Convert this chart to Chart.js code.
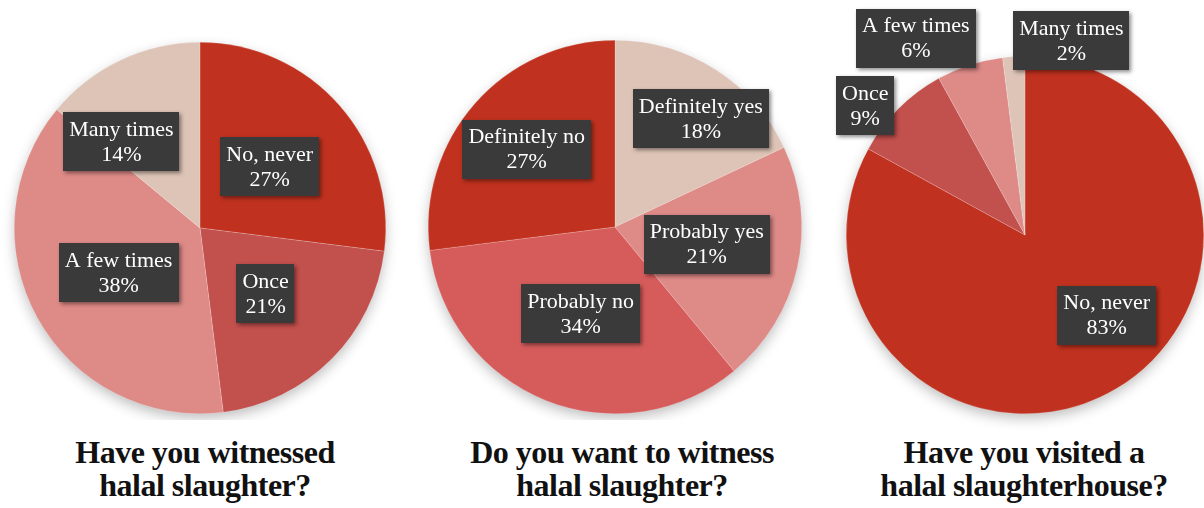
<!DOCTYPE html>
<html>
<head>
<meta charset="utf-8">
<script src="https://cdn.jsdelivr.net/npm/chart.js@4"></script>
<style>
  body { margin: 0; background: #fff; width: 1204px; height: 508px; position: relative; overflow: hidden; }
  canvas { position: absolute; }
  .title {
    position: absolute; top: 436px;
    font-family: "Liberation Serif", serif; font-weight: bold;
    font-size: 32px; line-height: 33px; text-align: center; color: #111;
    letter-spacing: -0.5px; white-space: nowrap;
  }
</style>
</head>
<body>
<canvas id="witnessed" width="400" height="420" style="left:0;top:0"></canvas>
<canvas id="want" width="410" height="420" style="left:410px;top:0"></canvas>
<canvas id="visited" width="384" height="430" style="left:820px;top:0"></canvas>
<div class="title" style="left:35px;width:340px">Have you witnessed<br>halal slaughter?</div>
<div class="title" style="left:447px;width:350px">Do you want to witness<br>halal slaughter?</div>
<div class="title" style="left:844px;width:360px">Have you visited a<br>halal slaughterhouse?</div>
<script>
const witnessedLabels = ['No, never', 'Once', 'A few times', 'Many times'];
const witnessedValues = [27, 21, 38, 14];

const wantLabels = ['Definitely yes', 'Probably yes', 'Probably no', 'Definitely no'];
const wantValues = [18, 21, 34, 27];

const visitedLabels = ['No, never', 'Once', 'A few times', 'Many times'];
const visitedValues = [83, 9, 6, 2];

const darkRed = '#C0321F';
const midRed = '#C2504D';
const rose = '#D65C5B';
const pink = '#DE8A87';
const beige = '#DEC4B7';

const labelFont = '22px "Liberation Serif"';

// soft shadow under the whole pie
const pieShadow = {
  id: 'pieShadow',
  beforeDatasetsDraw(chart) {
    const arc = chart.getDatasetMeta(0).data[0];
    if (!arc) return;
    const ctx = chart.ctx;
    ctx.save();
    ctx.shadowColor = 'rgba(0,0,0,0.28)';
    ctx.shadowBlur = 14;
    ctx.shadowOffsetY = 5;
    ctx.fillStyle = '#fff';
    ctx.beginPath();
    ctx.arc(arc.x, arc.y, arc.outerRadius - 1, 0, Math.PI * 2);
    ctx.fill();
    ctx.restore();
  }
};

// dark callout boxes with category and percentage
const sliceLabels = {
  id: 'sliceLabels',
  afterDraw(chart, args, opts) {
    const ctx = chart.ctx;
    const meta = chart.getDatasetMeta(0);
    const values = chart.data.datasets[0].data;
    const total = values.reduce((a, b) => a + b, 0);
    ctx.save();
    ctx.font = labelFont;
    ctx.textAlign = 'center';
    ctx.textBaseline = 'middle';
    meta.data.forEach((arc, i) => {
      const mid = (arc.startAngle + arc.endAngle) / 2 + (opts.nudge[i] || 0) * Math.PI / 180;
      const dist = arc.outerRadius * opts.dist[i];
      const cx = arc.x + Math.cos(mid) * dist;
      const cy = arc.y + Math.sin(mid) * dist;
      const lines = [chart.data.labels[i], Math.round(values[i] / total * 100) + '%'];
      const w = Math.max(...lines.map(t => ctx.measureText(t).width)) + 12;
      const lh = 25;
      const h = lh * 2 + 9;
      ctx.save();
      ctx.shadowColor = 'rgba(0,0,0,0.45)';
      ctx.shadowBlur = 4;
      ctx.shadowOffsetX = 2;
      ctx.shadowOffsetY = 2;
      ctx.fillStyle = '#3A3A3A';
      ctx.fillRect(Math.round(cx - w / 2), Math.round(cy - h / 2), Math.round(w), h);
      ctx.restore();
      ctx.fillStyle = '#fff';
      ctx.fillText(lines[0], cx, cy - lh / 2 + 1);
      ctx.fillText(lines[1], cx, cy + lh / 2 + 1);
    });
    ctx.restore();
  }
};

function makePie(id, labels, values, colors, padding, place) {
  return new Chart(document.getElementById(id), {
    type: 'pie',
    data: {
      labels: labels,
      datasets: [{
        data: values,
        backgroundColor: colors,
        borderColor: 'rgba(255,255,255,0.35)',
        borderWidth: 0.5
      }]
    },
    options: {
      responsive: false,
      animation: false,
      layout: { padding: padding },
      plugins: {
        legend: { display: false },
        tooltip: { enabled: false },
        sliceLabels: place
      }
    },
    plugins: [pieShadow, sliceLabels]
  });
}

function drawAll() {
  makePie('witnessed', witnessedLabels, witnessedValues,
    [darkRed, midRed, pink, beige],
    { left: 14, right: 14, top: 42, bottom: 6 },
    { dist: [0.5, 0.5, 0.5, 0.63], nudge: [0, 0, 0, -17] });

  makePie('want', wantLabels, wantValues,
    [beige, pink, rose, darkRed],
    { left: 18, right: 18, top: 40, bottom: 6 },
    { dist: [0.74, 0.5, 0.5, 0.63], nudge: [6, -2, 0, 0] });

  makePie('visited', visitedLabels, visitedValues,
    [darkRed, midRed, pink, beige],
    { left: 26, right: 0, top: 56, bottom: 16 },
    { dist: [0.64, 1.15, 1.26, 1.12], nudge: [-15, -6, -11, 17] });
}

// canvas text needs the serif face ready before the first draw
document.fonts.load(labelFont).then(drawAll, drawAll);
</script>
</body>
</html>
